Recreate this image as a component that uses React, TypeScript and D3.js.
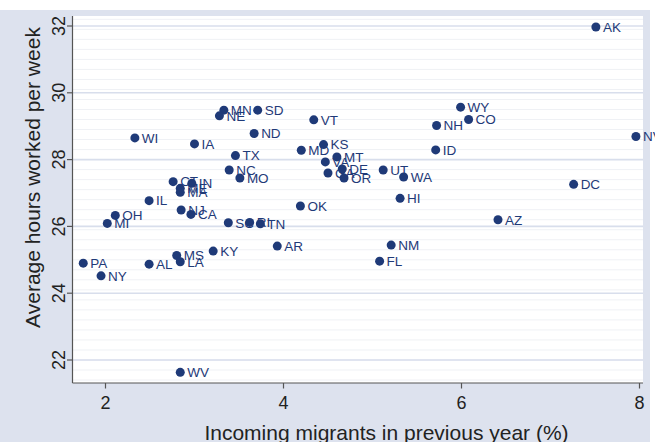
import React from "react";
import * as d3 from "d3";

const states = ["AK","WY","CO","NH","ID","NV","DC","AZ","UT","WA","HI","NM","FL","VT","KS","MD","MT","VA","GA","DE","OR","OK","AR","SD","MN","NE","ND","TX","NC","MO","IA","WI","SC","RI","TN","KY","MS","LA","AL","PA","NY","WV","OH","MI","IL","NJ","CA","CT","IN","ME","MA"];
const migrants = [7.51,5.99,6.08,5.72,5.71,7.96,7.26,6.41,5.12,5.35,5.31,5.21,5.08,4.34,4.45,4.20,4.60,4.47,4.50,4.66,4.68,4.19,3.93,3.71,3.33,3.28,3.67,3.46,3.39,3.51,3.00,2.33,3.38,3.62,3.74,3.21,2.80,2.84,2.49,1.75,1.95,2.84,2.11,2.02,2.49,2.85,2.96,2.76,2.97,2.84,2.84];
const hours = [31.97,29.57,29.20,29.02,28.29,28.69,27.26,26.20,27.69,27.48,26.84,25.44,24.96,29.19,28.45,28.28,28.08,27.93,27.60,27.72,27.45,26.61,25.41,29.48,29.48,29.31,28.78,28.12,27.69,27.45,28.47,28.65,26.11,26.12,26.08,25.26,25.13,24.94,24.87,24.90,24.52,21.63,26.33,26.09,26.77,26.49,26.36,27.34,27.29,27.14,27.02];
const xTicks = [2, 4, 6, 8];
const yTicks = [22, 24, 26, 28, 30, 32];
const xTitle = "Incoming migrants in previous year (%)";
const yTitle = "Average hours worked per week";

const W = 655, H = 442;
const plotL = 72.5, plotR = 643, plotT = 16, plotB = 383;
const navy = "#1f3a78";
const font = "'Liberation Sans', Arial, sans-serif";

export default function App() {
  const x = d3.scaleLinear().domain([2, 8]).range([105.5, 639.5]);
  const y = d3.scaleLinear().domain([22, 32]).range([360, 26]);
  const minor = d3.range(-2, 35).map(k => 22 + 0.3 * k).filter(v => y(v) > plotT + 1 && y(v) < plotB - 1);
  return (
    <svg width={W} height={H} style={{ position: "absolute", left: 0, top: 0, display: "block" }} fontFamily={font}>
      <rect x={0} y={0} width={W} height={H} fill="#ffffff" />
      <rect x={0} y={10} width={650} height={H - 10} fill="#dde2ee" />
      <rect x={plotL} y={plotT} width={plotR - plotL} height={plotB - plotT} fill="#ffffff" />
      {minor.map((v, i) => (
        <line key={"m" + i} x1={plotL} x2={plotR} y1={y(v)} y2={y(v)} stroke="#eff1f5" strokeWidth={1} />
      ))}
      {yTicks.map(t => (
        <line key={"g" + t} x1={plotL} x2={plotR} y1={y(t)} y2={y(t)} stroke="#d8deec" strokeWidth={1.6} />
      ))}
      <line x1={plotL} x2={plotL} y1={plotT} y2={plotB} stroke="#555" strokeWidth={1.2} />
      <line x1={plotL} x2={plotR} y1={plotB} y2={plotB} stroke="#555" strokeWidth={1.2} />
      {yTicks.map(t => (
        <g key={"yt" + t}>
          <line x1={plotL - 5.5} x2={plotL} y1={y(t)} y2={y(t)} stroke="#555" strokeWidth={1.2} />
          <text x={65} y={y(t)} transform={`rotate(-90, 65, ${y(t)})`} textAnchor="middle" fontSize={18} fill="#222">{t}</text>
        </g>
      ))}
      {xTicks.map(t => (
        <g key={"xt" + t}>
          <line x1={x(t)} x2={x(t)} y1={plotB} y2={plotB + 5.5} stroke="#555" strokeWidth={1.2} />
          <text x={x(t)} y={409} textAnchor="middle" fontSize={18} fill="#222">{t}</text>
        </g>
      ))}
      <text x={40} y={177.5} transform="rotate(-90, 40, 177.5)" textAnchor="middle" fontSize={21} fill="#222">{yTitle}</text>
      <text x={386.5} y={440} textAnchor="middle" fontSize={21} fill="#222">{xTitle}</text>
      {states.map((s, i) => (
        <g key={s}>
          <circle cx={x(migrants[i])} cy={y(hours[i])} r={4.5} fill={navy} />
          <text x={x(migrants[i]) + 7} y={y(hours[i]) + 4.8} fontSize={13.5} fill={navy}>{s}</text>
        </g>
      ))}
    </svg>
  );
}
